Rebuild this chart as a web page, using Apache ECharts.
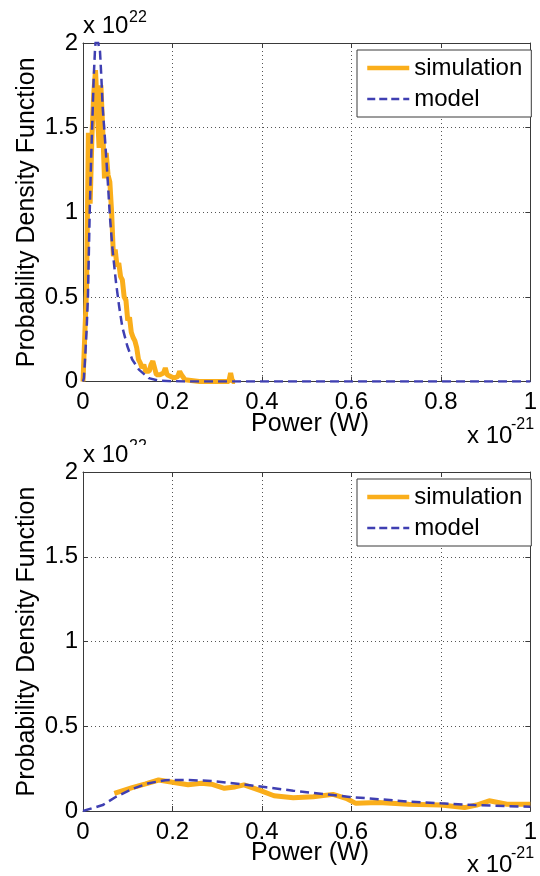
<!DOCTYPE html>
<html>
<head>
<meta charset="utf-8">
<script src="https://cdn.jsdelivr.net/npm/echarts@6/dist/echarts.min.js"></script>
<style>
  html, body { margin: 0; padding: 0; background: #fff; }
  #chart { width: 540px; height: 876px; }
</style>
</head>
<body>
<div id="chart"></div>
<script>
// Power in units of 1e-21 W, density in units of 1e22.

// Upper panel: simulated histogram density
const simPower1 = [0.000, 0.004, 0.008, 0.012, 0.016, 0.020, 0.024, 0.028, 0.032, 0.036, 0.040, 0.044, 0.048,
  0.052, 0.056, 0.060, 0.064, 0.068, 0.072, 0.076, 0.080, 0.084, 0.088, 0.092, 0.096, 0.100, 0.104, 0.108,
  0.112, 0.116, 0.120, 0.124, 0.128, 0.132, 0.136, 0.140, 0.144, 0.148, 0.152, 0.156, 0.160, 0.164, 0.168,
  0.172, 0.176, 0.180, 0.184, 0.188, 0.192, 0.196, 0.200, 0.204, 0.208, 0.212, 0.216, 0.220, 0.224, 0.228,
  0.232, 0.260, 0.300, 0.326, 0.330, 0.334, 0.340];
const simDensity1 = [0, 0, 0.55, 1.47, 1.05, 1.45, 1.70, 1.84, 1.60, 1.38, 1.75, 1.50, 1.20,
  1.35, 1.22, 1.18, 1.00, 0.74, 0.78, 0.68, 0.70, 0.62, 0.60, 0.50, 0.48, 0.36, 0.38, 0.29,
  0.26, 0.24, 0.20, 0.13, 0.11, 0.08, 0.10, 0.06, 0.05, 0.06, 0.10, 0.12, 0.08, 0.04, 0.03,
  0.04, 0.03, 0.05, 0.08, 0.04, 0.05, 0.03, 0.02, 0.02, 0.01, 0.03, 0.06, 0.04, 0.03, 0.01,
  0, 0, 0, 0, 0.05, 0, 0];

// Upper panel: model density
const modelPower1 = [0, 0.002, 0.005, 0.008, 0.011, 0.013, 0.015, 0.018, 0.021, 0.024, 0.027, 0.030, 0.034,
  0.038, 0.041, 0.044, 0.050, 0.055, 0.060, 0.066, 0.074, 0.081, 0.088, 0.099, 0.110, 0.125, 0.147,
  0.170, 0.200, 0.300, 0.500, 0.700, 1.000];
const modelDensity1 = [0, 0.02, 0.15, 0.30, 0.50, 0.75, 1.00, 1.30, 1.55, 1.80, 1.97, 2.05, 2.05,
  1.95, 1.80, 1.62, 1.40, 1.20, 0.98, 0.78, 0.58, 0.44, 0.32, 0.21, 0.13, 0.07, 0.02,
  0.005, 0.001, 0, 0, 0, 0];

// Lower panel: simulated density
const simPower2 = [0.070, 0.110, 0.140, 0.169, 0.200, 0.235, 0.265, 0.287, 0.316, 0.340, 0.360, 0.397,
  0.427, 0.470, 0.515, 0.559, 0.588, 0.610, 0.660, 0.728, 0.800, 0.853, 0.880, 0.908, 0.948, 1.000];
const simDensity2 = [0.104, 0.138, 0.160, 0.183, 0.170, 0.155, 0.164, 0.158, 0.134, 0.142, 0.154, 0.120,
  0.090, 0.078, 0.084, 0.098, 0.075, 0.045, 0.050, 0.040, 0.035, 0.020, 0.035, 0.060, 0.040, 0.040];

// Lower panel: model density
const modelPower2 = [0, 0.044, 0.074, 0.110, 0.147, 0.184, 0.235, 0.287, 0.335, 0.410, 0.470, 0.537,
  0.596, 0.660, 0.728, 0.800, 0.875, 1.000];
const modelDensity2 = [0, 0.035, 0.084, 0.130, 0.164, 0.182, 0.183, 0.177, 0.164, 0.140, 0.120, 0.100,
  0.083, 0.070, 0.055, 0.045, 0.035, 0.025];

const powerTicks = { min: 0, max: 1, interval: 0.2 };
const densityTicks = { min: 0, max: 2, interval: 0.5 };
const seriesNames = ['simulation', 'model'];
const yTitle = 'Probability Density Function';
const xTitle = 'Power (W)';

const FONT = "'Liberation Sans', Arial, Helvetica, sans-serif";
const ORANGE = '#FAAE1B';
const BLUE = '#3F3FB2';
const AXIS = '#3a3a3a';
const SIM_WIDTH = 5;
const MODEL_WIDTH = 2.5;
const MODEL_DASH = [9, 5];

const pairs = (xs, ys) => xs.map((x, i) => [x, ys[i]]);

const panels = [
  { top: 43, height: 338.5, sim: pairs(simPower1, simDensity1), model: pairs(modelPower1, modelDensity1) },
  { top: 472, height: 339, sim: pairs(simPower2, simDensity2), model: pairs(modelPower2, modelDensity2) }
];

const grid = [], xAxis = [], yAxis = [], series = [], legend = [], graphic = [];

panels.forEach((p, k) => {
  grid.push({ left: 83, top: p.top, width: 454, height: p.height, show: false });

  const tickStyle = { show: true, inside: true, length: 5, lineStyle: { color: AXIS } };
  // bottom and top x axes (top one only closes the box)
  xAxis.push({
    gridIndex: k, type: 'value', position: 'bottom', ...powerTicks,
    axisLine: { show: true, onZero: false, lineStyle: { color: AXIS, width: 1 } },
    axisTick: tickStyle,
    axisLabel: { fontSize: 24, color: '#000', fontFamily: FONT, margin: 9 },
    splitLine: { show: true, lineStyle: { type: [1, 3], color: '#555', width: 1 } }
  });
  xAxis.push({
    gridIndex: k, type: 'value', position: 'top', ...powerTicks,
    axisLine: { show: true, onZero: false, lineStyle: { color: AXIS, width: 1 } },
    axisTick: tickStyle, axisLabel: { show: false }, splitLine: { show: false }
  });
  yAxis.push({
    gridIndex: k, type: 'value', position: 'left', ...densityTicks,
    axisLine: { show: true, onZero: false, lineStyle: { color: AXIS, width: 1 } },
    axisTick: tickStyle,
    axisLabel: { fontSize: 24, color: '#000', fontFamily: FONT, margin: 5 },
    splitLine: { show: true, lineStyle: { type: [1, 3], color: '#555', width: 1 } }
  });
  yAxis.push({
    gridIndex: k, type: 'value', position: 'right', ...densityTicks,
    axisLine: { show: true, onZero: false, lineStyle: { color: AXIS, width: 1 } },
    axisTick: tickStyle, axisLabel: { show: false }, splitLine: { show: false }
  });

  series.push({
    name: seriesNames[0], type: 'line', xAxisIndex: 2 * k, yAxisIndex: 2 * k,
    data: p.sim, symbol: 'none', showSymbol: false, clip: true, z: 3,
    lineStyle: { color: ORANGE, width: SIM_WIDTH, join: 'bevel', cap: 'butt' }, itemStyle: { color: ORANGE }
  });
  series.push({
    name: seriesNames[1], type: 'line', xAxisIndex: 2 * k, yAxisIndex: 2 * k,
    data: p.model, symbol: 'none', showSymbol: false, clip: true, z: 4,
    lineStyle: { color: BLUE, width: MODEL_WIDTH, type: MODEL_DASH }, itemStyle: { color: BLUE }
  });

  legend.push({
    data: [
      { name: seriesNames[0], lineStyle: { width: 4.5, color: ORANGE } },
      { name: seriesNames[1], lineStyle: { width: 2.5, color: BLUE, type: [8, 4] } }
    ],
    orient: 'vertical', left: 357, top: p.top + 7,
    padding: [6, 9, 6, 8], itemGap: 7, itemWidth: 42, itemHeight: 14,
    textStyle: { fontSize: 24, color: '#000', fontFamily: FONT },
    // line-only keys: hide the marker glyph
    itemStyle: { opacity: 0, borderWidth: 0 },
    borderColor: AXIS, borderWidth: 1, backgroundColor: '#fff',
    selectedMode: false
  });

  const off = p.top - 43;
  graphic.push(
    { type: 'text', x: 27, y: p.top + p.height / 2, rotation: Math.PI / 2,
      style: { text: yTitle, font: `25px ${FONT}`, fill: '#000', textAlign: 'center', textVerticalAlign: 'middle' } },
    { type: 'text', x: 310, y: 424 + off,
      style: { text: xTitle, font: `25px ${FONT}`, fill: '#000', textAlign: 'center', textVerticalAlign: 'middle' } },
    { type: 'text', x: 467, y: 436 + off,
      style: { text: 'x 10', font: `24px ${FONT}`, fill: '#000', textAlign: 'left', textVerticalAlign: 'middle' } },
    { type: 'text', x: 511, y: 425 + off,
      style: { text: '-21', font: `16px ${FONT}`, fill: '#000', textAlign: 'left', textVerticalAlign: 'middle' } },
    { type: 'text', x: 83, y: 26 + off,
      style: { text: 'x 10', font: `24px ${FONT}`, fill: '#000', textAlign: 'left', textVerticalAlign: 'middle' } },
    { type: 'text', x: 129, y: 18 + off, z: 1,
      style: { text: '22', font: `16px ${FONT}`, fill: '#000', textAlign: 'left', textVerticalAlign: 'middle' } }
  );
});

// the lower exponent sits under the upper panel's axis-multiplier strip and is partly covered
graphic.push({ type: 'rect', z: 2, shape: { x: 129, y: 445, width: 22, height: 16 }, style: { fill: '#fff' } });

const chart = echarts.init(document.getElementById('chart'), null, { renderer: 'canvas' });
chart.setOption({
  animation: false,
  backgroundColor: '#fff',
  grid, xAxis, yAxis, series, legend, graphic
});
</script>
</body>
</html>
